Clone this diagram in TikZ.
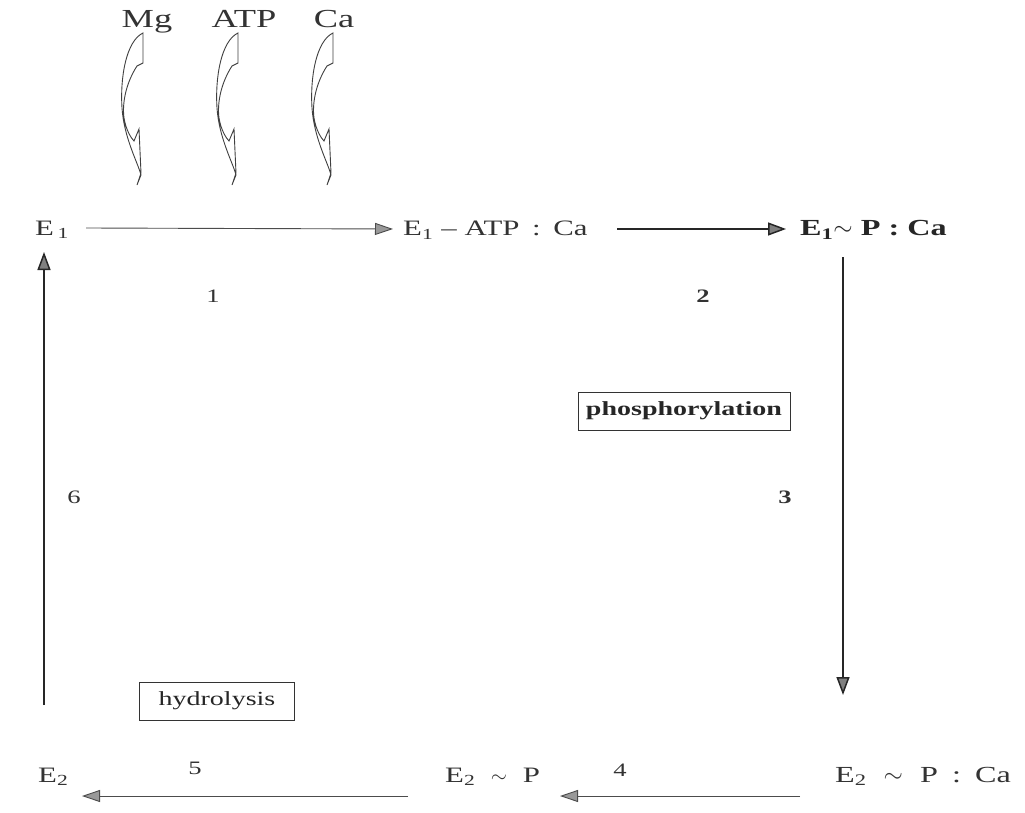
\documentclass[tikz,border=0pt]{standalone}
\usepackage{fontspec}
\setmainfont[FakeStretch=1.4]{Liberation Serif}
\usetikzlibrary{arrows.meta}
\tikzset{
  lbl/.style={inner sep=0pt, anchor=base west, font=\fontsize{22}{26}\selectfont, text=black!80},
  lblb/.style={lbl, font=\fontsize{23}{27}\selectfont\bfseries, text=black!85},
  num/.style={inner sep=0pt, font=\fontsize{19}{22}\selectfont, text=black!80},
  boxed/.style={draw=black!80, line width=0.9pt, inner sep=0pt, minimum height=38pt, font=\fontsize{20}{24}\selectfont, text=black!85},
  arrthin/.style={draw=black!70, line width=0.9pt, -{Triangle[length=18pt,width=12pt,fill=black!40]}},
  arrthick/.style={draw=black!85, line width=1.5pt, -{Triangle[length=18pt,width=13pt,fill=black!50]}},
  curly/.pic={\draw[black!75, line width=0.9pt, fill=white]
     (0,0) -- (0,30) -- (-6,33) .. controls (-17,50) and (-21,70) .. (-19,85)
     .. controls (-17,97) and (-12,105) .. (-9,108) -- (-4,96) -- (-2,140) -- (-6,152)
     -- (-2,142) .. controls (-5,130) and (-19,105) .. (-21,75)
     .. controls (-23,45) and (-17,8) .. (0,0) -- cycle;}
}
\begin{document}
\begin{tikzpicture}[x=1pt,y=-1pt]
\useasboundingbox (0,0) rectangle (1025,813);
% top reagents
\node[lbl, anchor=base, font=\fontsize{26}{30}\selectfont] (mg) at (147,28) {Mg};
\node[lbl, anchor=base, font=\fontsize{26}{30}\selectfont] (atp) at (244,28) {ATP};
\node[lbl, anchor=base, font=\fontsize{26}{30}\selectfont] (ca) at (334,28) {Ca};
\pic at (143,33) {curly};
\pic at (238,33) {curly};
\pic at (333,33) {curly};
% main species
\node[lbl] (e1) at (35,235) {E\,\textsubscript{1}};
\node[lbl] (e1atp) at (403,236) {E\textsubscript{1}\hspace{8pt}–\hspace{8pt}ATP\hspace{5pt} :\hspace{5pt} Ca};
\node[lblb] (e1p) at (800,236) {E\textsubscript{1}$\sim$ P : Ca};
\node[lbl, font=\fontsize{23}{27}\selectfont] (e2pca) at (835,782) {E\textsubscript{2}\hspace{9pt} $\sim$\hspace{9pt} P\hspace{6pt} :\hspace{6pt} Ca};
\node[lbl] (e2p) at (445,782) {E\textsubscript{2}\hspace{8pt} $\sim$\hspace{8pt} P};
\node[lbl] (e2) at (38,782) {E\textsubscript{2}};
% arrows
\draw[arrthin] ([shift={(17,-7)}]e1.base east) -- ([shift={(-10,-7)}]e1atp.base west);
\draw[arrthick] ([shift={(-183,-7)}]e1p.base west) -- ([shift={(-14,-7)}]e1p.base west);
\draw[arrthick] ([shift={(43,21)}]e1p.base west) -- ([shift={(8,-87)}]e2pca.base west);
\draw[arrthin] ([shift={(-35,14)}]e2pca.base west) -- ([shift={(115,14)}]e2p.base west);
\draw[arrthin] ([shift={(-37,14)}]e2p.base west) -- ([shift={(44,14)}]e2.base west);
\draw[arrthick] ([shift={(6,-77)}]e2.base west) -- ([shift={(9,17)}]e1.base west);
% step numbers
\node[num] (n1) at (213,296) {1};
\node[num, font=\fontsize{19}{22}\selectfont\bfseries] (n2) at (703,296) {2};
\node[num, font=\fontsize{19}{22}\selectfont\bfseries] (n3) at (785,497) {3};
\node[num] (n4) at (620,770) {4};
\node[num] (n5) at (195,768) {5};
\node[num] (n6) at (74,497) {6};
% boxes
\node[boxed, minimum width=212pt, font=\fontsize{20}{24}\selectfont\bfseries] (phos) at (684,411) {phosphorylation};
\node[boxed, minimum width=155pt] (hyd) at (217,701) {hydrolysis};
\end{tikzpicture}
\end{document}
